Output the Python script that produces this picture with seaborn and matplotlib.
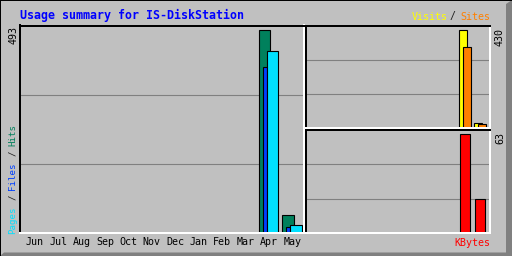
import numpy as np
import pandas as pd
import matplotlib
matplotlib.use("Agg")
import matplotlib.pyplot as plt
from matplotlib.patches import Polygon, Rectangle
import seaborn as sns

# ---- data ----
months = ["Jun", "Jul", "Aug", "Sep", "Oct", "Nov", "Dec", "Jan", "Feb", "Mar", "Apr", "May"]
hits   = [0, 0, 0, 0, 0, 0, 0, 0, 0, 0, 493, 44]
files  = [0, 0, 0, 0, 0, 0, 0, 0, 0, 0, 405, 14]
pages  = [0, 0, 0, 0, 0, 0, 0, 0, 0, 0, 443, 19]
visits = [0, 0, 0, 0, 0, 0, 0, 0, 0, 0, 430, 20]
sites  = [0, 0, 0, 0, 0, 0, 0, 0, 0, 0, 357, 19]
kbytes = [0, 0, 0, 0, 0, 0, 0, 0, 0, 0, 63, 22]
title = "Usage summary for IS-DiskStation"

BG = "#C0C0C0"
C_HITS, C_FILES, C_PAGES = "#00805C", "#0040FF", "#00E0FF"
C_VISITS, C_SITES, C_KB = "#FFFF00", "#FF8000", "#FF0000"

sns.set_style("white")
plt.rcParams["font.family"] = ["DejaVu Sans Mono"]

W, H = 512, 256
fig = plt.figure(figsize=(W / 100, H / 100), dpi=100, facecolor=BG)


def rect(x0, y0, x1, y1):
    return [x0 / W, 1 - y1 / H, (x1 - x0) / W, (y1 - y0) / H]


def fxy(x, y):
    return x / W, 1 - y / H


def style_ax(ax):
    ax.set_facecolor(BG)
    for s in ["top", "left"]:
        ax.spines[s].set_color("black")
        ax.spines[s].set_linewidth(1.44)
    for s in ["bottom", "right"]:
        ax.spines[s].set_color("white")
        ax.spines[s].set_linewidth(1.44)
    for sp in ax.spines.values():
        sp.set_zorder(5)


def bars(ax, values, offset, width, color):
    idx = [i for i, v in enumerate(values) if v > 0]
    df = pd.DataFrame({"x": [i + offset for i in idx], "y": [values[i] for i in idx]})
    sns.barplot(data=df, x="x", y="y", native_scale=True, width=width, color=color,
                edgecolor="black", linewidth=0.8, errorbar=None, saturation=1, ax=ax)


def finish(ax, xlim, ytop, xlabels=None):
    ax.set_xlim(*xlim)
    ax.set_ylim(0, ytop)
    ax.set_yticks([ytop / 3, 2 * ytop / 3])
    ax.set_yticklabels([])
    ax.yaxis.grid(True, color="#808080", linewidth=0.8)
    ax.xaxis.grid(False)
    ax.set_axisbelow(True)
    ax.set_xlabel("")
    ax.set_ylabel("")
    if xlabels is None:
        ax.set_xticks([])
    else:
        ax.set_xticks(range(12))
        ax.set_xticklabels(xlabels, fontsize=7.2, color="black")
        ax.tick_params(axis="x", length=0, pad=3.2)
    ax.tick_params(axis="y", length=0)


# ---- main panel: hits / files / pages ----
ax1 = fig.add_axes(rect(20, 25.5, 303.5, 233))
style_ax(ax1)
bars(ax1, hits, -0.17, 0.487, C_HITS)
bars(ax1, files, -0.17, 0.18, C_FILES)
bars(ax1, pages, 0.16, 0.5, C_PAGES)
sp1 = 23.4
finish(ax1, (-0.63, -0.63 + 283.5 / sp1), 505, months)

# ---- top right: visits / sites ----
sp2 = 15.2
xl2 = (10 - (465 - 305.5) / sp2, 10 - (465 - 305.5) / sp2 + (490 - 305.5) / sp2)
ax2 = fig.add_axes(rect(305.5, 25.5, 490, 128))
style_ax(ax2)
bars(ax2, visits, -0.14, 0.5, C_VISITS)
bars(ax2, sites, 0.13, 0.53, C_SITES)
finish(ax2, xl2, 449)

# ---- bottom right: kbytes ----
ax3 = fig.add_axes(rect(305.5, 130, 490, 233))
style_ax(ax3)
bars(ax3, kbytes, 0.0, 0.62, C_KB)
finish(ax3, xl2, 65.7)

# ---- texts ----
fig.text(*fxy(20, 15.5), title, color="#0000FF", fontsize=8.4, fontweight="bold",
         ha="left", va="center")

fs = 7.2
adv = 6.0
fig.text(*fxy(411.7, 16.5), "Visits", color=C_VISITS, fontsize=fs, ha="left", va="center")
fig.text(*fxy(452.5, 16.5), "/", color="#202020", fontsize=fs, ha="center", va="center")
fig.text(*fxy(460, 16.5), "Sites", color=C_SITES, fontsize=fs, ha="left", va="center")

fig.text(*fxy(490, 243), "KBytes", color=C_KB, fontsize=fs, ha="right", va="center")

fig.text(*fxy(13.3, 26.5), str(max(hits)), color="black", fontsize=fs, rotation=90,
         ha="center", va="top")
fig.text(*fxy(500, 27.5), str(max(visits)), color="black", fontsize=fs, rotation=90,
         ha="center", va="top")
fig.text(*fxy(500, 131.5), str(max(kbytes)), color="black", fontsize=fs, rotation=90,
         ha="center", va="top")

# vertical multi-coloured label
vlabel = [("Pages", C_PAGES), (" / ", "#202020"), ("Files", C_FILES),
          (" / ", "#202020"), ("Hits", C_HITS)]
vadv = 5.5
vfs = vadv / 0.602 * 0.72
pos = 0
for seg, col in vlabel:
    if seg.strip():
        lead = len(seg) - len(seg.lstrip())
        fig.text(*fxy(12.5, 233.5 - (pos + lead) * vadv), seg.strip(), color=col,
                 fontsize=vfs, rotation=90, ha="center", va="bottom")
    pos += len(seg)

# ---- 3D frame ----
bevel = Polygon([fxy(512, 0), fxy(512, 256), fxy(0, 256), fxy(4, 252.5),
                 fxy(506, 252.5), fxy(506, 4)], closed=True,
                transform=fig.transFigure, facecolor="#808080", edgecolor="none", zorder=0)
fig.patches.append(bevel)
fig.patches.append(Rectangle(fxy(0, 1), 1, 1 / H, transform=fig.transFigure,
                             facecolor="black", edgecolor="none", zorder=1))
fig.patches.append(Rectangle(fxy(0, 256), 1 / W, 1, transform=fig.transFigure,
                             facecolor="black", edgecolor="none", zorder=1))

fig.savefig("out.png", dpi=100, facecolor=BG)
